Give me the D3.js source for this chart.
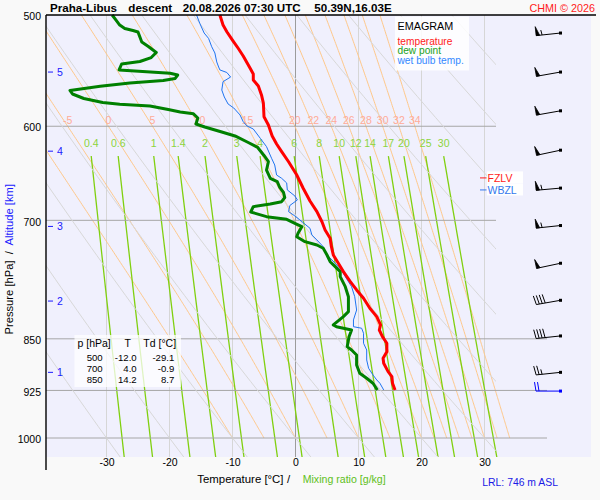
<!DOCTYPE html>
<html>
<head>
<meta charset="utf-8">
<script src="https://cdn.jsdelivr.net/npm/d3@7"></script>
<style>
  body { margin: 0; background: #f9f9f9; }
  svg { display: block; font-family: "Liberation Sans", Arial, sans-serif; }
  text { white-space: pre; }
</style>
</head>
<body>
<svg id="chart" width="600" height="500"></svg>
<script>
/* Emagram - Praha-Libus descent */

// temperature profile (hPa, degC)
const tempP = [500, 508.3, 513.9, 521.8, 528.0, 534.7, 545.6, 550.8, 556.2, 561.7, 570.0, 577.6, 590.7, 598.8, 609.6,
  617.7, 625.5, 635.9, 649.9, 663.9, 678.2, 690.1, 701.6, 711.2, 720.9, 730.9, 740.9, 751.0, 761.4, 774.0,
  784.6, 795.4, 808.5, 819.7, 830.9, 837.8, 847.0, 856.2, 868.1, 877.5, 884.8, 897.0, 904.4, 914.2, 924.3];
const tempT = [-12.0, -11.5, -10.9, -9.9, -9.1, -8.3, -7.2, -6.7, -6.7, -5.9, -5.4, -5.1, -5.0, -4.3, -3.7,
  -3.0, -2.2, -1.1, 0.2, 1.2, 2.3, 3.4, 4.2, 4.7, 5.5, 5.7, 6.0, 6.8, 7.6, 8.7,
  9.7, 10.8, 11.8, 12.9, 13.5, 13.3, 13.8, 14.5, 14.5, 13.9, 14.0, 14.7, 15.3, 15.4, 15.8];

// dew point profile
const dewP = [500, 504.9, 508.3, 511.2, 512.9, 514.1, 518.4, 522.6, 526.7, 531.7, 536.1, 539.6, 541.8, 547.1, 550.1,
  551.7, 554.8, 556.7, 558.9, 562.0, 565.8, 569.1, 573.3, 577.1, 578.8, 580.4, 583.7, 586.1, 587.9, 591.9,
  597.8, 600.7, 605.7, 609.6, 616.2, 621.2, 629.4, 635.9, 644.6, 653.4, 657.0, 663.3, 668.8, 674.3, 678.9,
  681.5, 684.5, 690.5, 695.8, 698.8, 703.4, 707.3, 715.0, 719.0, 724.9, 728.9, 732.8, 740.9, 749.1, 755.2,
  761.4, 767.7, 780.4, 793.3, 813.0, 819.7, 830.9, 833.3, 837.8, 847.0, 861.0, 865.7, 872.8, 887.2, 899.4,
  906.8, 914.2, 924.3];
const dewT = [-29.1, -28.4, -27.9, -27.1, -25.8, -25.0, -24.7, -24.4, -23.3, -22.1, -22.9, -24.7, -27.6, -28.0, -19.9,
  -18.7, -19.1, -21.0, -26.3, -31.0, -35.8, -35.4, -33.6, -30.6, -27.9, -23.1, -20.2, -18.3, -16.2, -15.5,
  -15.8, -14.4, -11.7, -9.6, -7.5, -6.0, -5.0, -4.3, -4.6, -4.0, -2.9, -2.5, -1.9, -1.7, -2.2,
  -4.0, -6.7, -7.1, -4.6, -1.4, -0.1, 1.0, 0.4, 0.2, 1.5, 3.4, 4.4, 5.0, 5.5, 6.3,
  7.1, 7.1, 7.9, 8.4, 8.4, 7.6, 6.0, 6.5, 8.9, 8.5, 8.2, 8.9, 9.7, 9.7, 10.2,
  11.3, 12.3, 13.0];

// wet bulb profile
const wetP = [500, 506.8, 515.0, 519.5, 526.7, 532.1, 540.0, 544.5, 547.1, 549.4, 553.5, 557.7, 565.4, 571.9, 578.5,
  582.3, 589.0, 595.5, 599.7, 602.7, 611.9, 620.4, 632.3, 639.3, 649.9, 653.4, 658.4, 666.0, 672.6, 677.0,
  683.2, 690.1, 695.0, 699.6, 709.2, 717.0, 722.9, 730.9, 740.9, 751.0, 759.3, 767.7, 780.4, 793.3, 810.8,
  824.1, 833.3, 835.4, 842.3, 856.2, 865.7, 880.0, 892.0, 901.9, 909.3, 914.2, 924.3];
const wetT = [-15.7, -15.2, -14.5, -13.8, -13.3, -12.8, -12.5, -12.2, -12.0, -10.9, -10.3, -11.5, -11.7, -11.3, -10.7,
  -9.8, -8.8, -8.3, -7.7, -6.7, -5.6, -4.6, -3.8, -3.3, -3.0, -2.2, -1.4, -1.3, -0.1, 0.3,
  -0.9, -1.1, -0.1, 0.7, 2.3, 2.6, 3.4, 4.4, 5.0, 6.3, 7.3, 7.9, 8.9, 9.4, 9.7,
  9.2, 9.2, 10.5, 10.8, 10.8, 11.3, 11.3, 11.6, 12.3, 12.9, 13.4, 14.0];

// winds (pressure, direction deg, speed kt)
const windP = [515, 549, 585, 624, 664, 706, 751, 798, 846, 898, 926];
const windDir = [264, 260, 260, 258, 265, 264, 258, 260, 264, 264, 270];
const windKt = [55, 50, 50, 50, 55, 55, 50, 40, 40, 25, 20];

// levels marked on the right
const levelNames = ['FZLV', 'WBZL'];
const levelP = [653, 666];

// altitude scale (km at hPa)
const altKm = [1, 2, 3, 4, 5];
const altP = [898, 799, 707, 625, 549];

// table
const tableP = [500, 700, 850];
const tableT = [-12.0, 4.0, 14.2];
const tableTd = [-29.1, -0.9, 8.7];

// axes and background lines
const pTicks = [500, 600, 700, 850, 925, 1000];
const pGrid = [600, 700, 850, 925, 1000];
const tTicks = [-30, -20, -10, 0, 10, 20, 30];
const dryTheta = [-30, -20, -10, 0, 10, 20, 30, 40, 50, 60, 70, 80, 90, 100, 110, 120, 130, 140, 150];
const moistThetaW = [-10, -5, 0, 5, 10, 15, 20, 22, 24, 26, 28, 30, 32, 34];
const mixRatios = [0.4, 0.6, 1, 1.4, 2, 3, 4, 6, 8, 10, 12, 14, 17, 20, 25, 30];

const W = 600, H = 500;
const plot = {left: 46, right: 591, top: 15, bottom: 457};
const svg = d3.select('#chart');

const x = d3.scaleLinear().domain([-30, 30]).range([106.5, 484.5]);
const y = d3.scaleLog().domain([500, 1000]).range([15, 438]);
const pBottom = y.invert(plot.bottom);

// thermodynamics for the background lines
const Rd = 287.04, cp = 1005.7, Lv = 2.501e6, eps = 0.622;
function esat(t) { return 6.112 * Math.exp(17.67 * t / (t + 243.5)); }
function dewFromMix(w, p) {
  const e = w * p / (622 + w);
  const l = Math.log(e / 6.112);
  return 243.5 * l / (17.67 - l);
}
function dryT(theta, p) { return (theta + 273.15) * Math.pow(p / 1000, Rd / cp) - 273.15; }
function moistRate(t, p) {
  const T = t + 273.15, es = esat(t), r = eps * es / (p - es);
  return ((Rd * T + Lv * r) / p) / (cp + Lv * Lv * r * eps / (Rd * T * T));
}
function moistLine(tw) {
  const pts = [];
  let t = tw;
  const dp = -2;
  for (let p = 1000; p >= 500; p += dp) {
    pts.push([t, p]);
    const k1 = moistRate(t, p);
    const k2 = moistRate(t + k1 * dp / 2, p + dp / 2);
    t += k2 * dp;
  }
  return pts;
}

const line = d3.line().x(d => x(d[0])).y(d => y(d[1]));

// background
svg.append('rect').attr('width', W).attr('height', H).attr('fill', '#f9f9f9');
svg.append('rect')
  .attr('x', plot.left).attr('y', plot.top)
  .attr('width', plot.right - plot.left).attr('height', plot.bottom - plot.top)
  .attr('fill', '#f0f0fd');

const defs = svg.append('defs');
defs.append('clipPath').attr('id', 'clipPlot').append('rect')
  .attr('x', plot.left).attr('y', plot.top)
  .attr('width', plot.right - plot.left).attr('height', plot.bottom - plot.top);
defs.append('clipPath').attr('id', 'clipDry').append('rect')
  .attr('x', plot.left).attr('y', plot.top)
  .attr('width', 496 - plot.left).attr('height', plot.bottom - plot.top);

const grid = svg.append('g').attr('clip-path', 'url(#clipPlot)');

// isotherms
grid.selectAll('.iso').data(tTicks).enter().append('line')
  .attr('x1', d => x(d)).attr('x2', d => x(d))
  .attr('y1', plot.top).attr('y2', plot.bottom)
  .attr('stroke', d => d == 0 ? '#9c9c9c' : '#d6d6d6')
  .attr('stroke-width', 1);

// dry adiabats
const dryG = svg.append('g').attr('clip-path', 'url(#clipDry)');
dryG.selectAll('path').data(dryTheta).enter().append('path')
  .attr('d', th => line(d3.range(pBottom, 499, -10).concat([500]).map(p => [dryT(th, p), p])))
  .attr('fill', 'none').attr('stroke', '#d8d8d8').attr('stroke-width', 1);

// moist adiabats
grid.selectAll('.moist').data(moistThetaW).enter().append('path')
  .attr('d', tw => line(moistLine(tw)))
  .attr('fill', 'none').attr('stroke', '#ffc88a').attr('stroke-width', 1);

// mixing ratio lines
grid.selectAll('.mix').data(mixRatios).enter().append('path')
  .attr('d', w => line(d3.range(630, pBottom, 5).concat([pBottom]).map(p => [dewFromMix(w, p), p])))
  .attr('fill', 'none').attr('stroke', '#80d010').attr('stroke-width', 1.3);

// pressure lines
grid.selectAll('.pgrid').data(pGrid).enter().append('line')
  .attr('x1', plot.left).attr('x2', d => d >= 850 ? 547 : 496)
  .attr('y1', d => y(d)).attr('y2', d => y(d))
  .attr('stroke', '#a6a6a6').attr('stroke-width', 1);

// labels of moist adiabats (at 600 hPa) and mixing ratio (at 630 hPa)
const moistAt600 = moistThetaW.map(tw => {
  const pts = moistLine(tw);
  return {tw: tw, t: pts.find(d => d[1] <= 600)[0]};
}).filter(d => x(d.t) > plot.left + 8);
svg.append('g').selectAll('text').data(moistAt600).enter().append('text')
  .attr('x', d => x(d.t)).attr('y', y(600) - 2)
  .attr('text-anchor', 'middle').attr('font-size', 10.5).attr('fill', '#ffab98')
  .text(d => d.tw);

svg.append('g').selectAll('text').data(mixRatios).enter().append('text')
  .attr('x', w => x(dewFromMix(w, 630))).attr('y', 146.5)
  .attr('text-anchor', 'middle').attr('font-size', 10.5).attr('fill', '#8cd43c')
  .text(w => w);

// sounding curves
const curves = [
  {p: wetP, t: wetT, color: '#1f74f0', width: 1},
  {p: dewP, t: dewT, color: '#008000', width: 3},
  {p: tempP, t: tempT, color: '#ff0000', width: 3}
];
svg.append('g').selectAll('path').data(curves).enter().append('path')
  .attr('d', c => line(c.p.map((p, i) => [c.t[i], p])))
  .attr('fill', 'none').attr('stroke', c => c.color).attr('stroke-width', c => c.width)
  .attr('stroke-linejoin', 'round');

// legend
const leg = svg.append('g');
leg.append('rect').attr('x', 395).attr('y', 16.5).attr('width', 74).attr('height', 54)
  .attr('fill', '#ffffff').attr('fill-opacity', 0.85);
leg.append('text').attr('x', 397.5).attr('y', 29.7).attr('font-size', 10.8).attr('fill', '#000').text('EMAGRAM');
const legItems = [['temperature', '#ff1a1a'], ['dew point', '#1aa01a'], ['wet bulb temp.', '#3388ff']];
leg.selectAll('.li').data(legItems).enter().append('text')
  .attr('x', 397.5).attr('y', (d, i) => 44.5 + i * 9.8)
  .attr('font-size', 10.2).attr('fill', d => d[1]).text(d => d[0]);

// table
const tab = svg.append('g').attr('font-size', 9.6).attr('fill', '#000');
tab.append('rect').attr('x', 74.5).attr('y', 335).attr('width', 106.5).attr('height', 52)
  .attr('fill', '#ffffff').attr('fill-opacity', 0.75);
tab.append('text').attr('x', 77.5).attr('y', 346.5).attr('font-size', 10.5).text('p [hPa]');
tab.append('text').attr('x', 127.7).attr('y', 346.5).attr('font-size', 10.5).attr('text-anchor', 'middle').text('T');
tab.append('text').attr('x', 143.3).attr('y', 346.5).attr('font-size', 10.5).text('Td [°C]');
tableP.forEach((p, i) => {
  const yy = 361 + i * 10.8;
  tab.append('text').attr('x', 102.7).attr('y', yy).attr('text-anchor', 'end').text(p);
  tab.append('text').attr('x', 136.7).attr('y', yy).attr('text-anchor', 'end').text(tableT[i].toFixed(1));
  tab.append('text').attr('x', 174.3).attr('y', yy).attr('text-anchor', 'end').text(tableTd[i].toFixed(1));
});

// freezing levels
const lvColors = ['#ff1a1a', '#3377ee'];
levelNames.forEach((name, i) => {
  const yy = y(levelP[i]);
  svg.append('line').attr('x1', 480).attr('x2', 486.5).attr('y1', yy).attr('y2', yy)
    .attr('stroke', lvColors[i]).attr('stroke-width', 1);
  svg.append('rect').attr('x', 487).attr('y', yy - 6.5).attr('width', 36).attr('height', 12).attr('fill', '#fff');
  svg.append('text').attr('x', 487.5).attr('y', yy + 4).attr('font-size', 10.5)
    .attr('fill', lvColors[i]).text(name);
});

// wind barbs
function barb(g, px, py, dir, kt, color) {
  const a = dir * Math.PI / 180;
  const ux = Math.sin(a), uy = -Math.cos(a);
  const nx = -uy, ny = ux;
  const L = 24.5, h = 9;
  const ex = px + L * ux, ey = py + L * uy;
  g.append('line').attr('x1', px).attr('y1', py).attr('x2', ex).attr('y2', ey)
    .attr('stroke', color).attr('stroke-width', 1);
  g.append('rect').attr('x', px - 1.5).attr('y', py - 1.5).attr('width', 3).attr('height', 3).attr('fill', color);
  let rest = Math.round(kt / 5) * 5, t = 0;
  while (rest >= 50) {
    const ax = ex - t * ux, ay = ey - t * uy;
    const bx = ex - (t + 3.5) * ux, by = ey - (t + 3.5) * uy;
    g.append('path').attr('d', `M${ax},${ay}L${ax + h * nx},${ay + h * ny}L${bx},${by}Z`)
      .attr('fill', color).attr('stroke', color).attr('stroke-width', 0.8);
    rest -= 50; t += 6;
  }
  while (rest >= 10) {
    const ax = ex - t * ux, ay = ey - t * uy;
    g.append('line').attr('x1', ax).attr('y1', ay)
      .attr('x2', ax + h * nx + 1.5 * ux).attr('y2', ay + h * ny + 1.5 * uy)
      .attr('stroke', color).attr('stroke-width', 1);
    rest -= 10; t += 3;
  }
  if (rest >= 5) {
    if (t == 0) t = 2;
    const ax = ex - t * ux, ay = ey - t * uy;
    g.append('line').attr('x1', ax).attr('y1', ay)
      .attr('x2', ax + 5 * nx + 0.8 * ux).attr('y2', ay + 5 * ny + 0.8 * uy)
      .attr('stroke', color).attr('stroke-width', 1);
  }
}
const barbG = svg.append('g');
windP.forEach((p, i) => {
  const color = i == windP.length - 1 ? '#0000ff' : '#000000';
  barb(barbG, 560.5, y(p), windDir[i], windKt[i], color);
});

// altitude ticks
const altG = svg.append('g');
altKm.forEach((km, i) => {
  const yy = y(altP[i]);
  altG.append('line').attr('x1', 48).attr('x2', 53).attr('y1', yy).attr('y2', yy)
    .attr('stroke', '#1a1aff').attr('stroke-width', 1);
  altG.append('text').attr('x', 57).attr('y', yy + 4).attr('font-size', 10.5).attr('fill', '#1a1aff').text(km);
});

// axes
const yAxis = d3.axisLeft(y).tickValues(pTicks).tickFormat(d => d).tickSize(0).tickPadding(5);
svg.append('g').attr('transform', `translate(${plot.left},0)`).call(yAxis)
  .attr('font-family', null).attr('font-size', 10.5)
  .call(g => g.select('.domain').remove())
  .selectAll('text').attr('dy', '0.45em').attr('fill', '#000');

const xAxis = d3.axisBottom(x).tickValues(tTicks).tickFormat(d => String(d)).tickSize(0).tickPadding(1.5);
svg.append('g').attr('transform', `translate(0,${plot.bottom})`).call(xAxis)
  .attr('font-family', null).attr('font-size', 10.5)
  .call(g => g.select('.domain').remove())
  .selectAll('text').attr('fill', '#000');

svg.append('line').attr('x1', plot.left).attr('x2', plot.left).attr('y1', plot.top).attr('y2', 470)
  .attr('stroke', '#000').attr('stroke-width', 1.4);
svg.append('line').attr('x1', plot.left).attr('x2', 596).attr('y1', plot.top).attr('y2', plot.top)
  .attr('stroke', '#000').attr('stroke-width', 1.4);

// titles
const title = svg.append('g').attr('font-size', 11.6).attr('font-weight', 'bold').attr('fill', '#000');
title.append('text').attr('x', 50).attr('y', 11.5).text('Praha-Libus');
title.append('text').attr('x', 128.3).attr('y', 11.5).text('descent');
title.append('text').attr('x', 182.7).attr('y', 11.5).text('20.08.2026 07:30 UTC');
title.append('text').attr('x', 314.3).attr('y', 11.5).text('50.39N,16.03E');
svg.append('text').attr('x', 595).attr('y', 11.5).attr('text-anchor', 'end')
  .attr('font-size', 10.8).attr('fill', '#ff1a1a').text('CHMI © 2026');

svg.append('text').attr('x', 197.3).attr('y', 483.3).attr('font-size', 11.4).attr('fill', '#000').text('Temperature [°C]');
svg.append('text').attr('x', 287).attr('y', 483.3).attr('font-size', 11.4).attr('fill', '#000').text('/');
svg.append('text').attr('x', 302.7).attr('y', 483.3).attr('font-size', 10.6).attr('fill', '#60c020').text('Mixing ratio [g/kg]');
svg.append('text').attr('x', 482.3).attr('y', 486).attr('font-size', 10.4).attr('fill', '#1a1ae6').text('LRL: 746 m ASL');

const yTitle = svg.append('text').attr('transform', 'translate(12.5,184) rotate(-90)')
  .attr('text-anchor', 'end').attr('font-size', 11.2);
yTitle.append('tspan').attr('fill', '#000').text('Pressure [hPa]  /  ');
yTitle.append('tspan').attr('fill', '#1a1aff').text('Altitude [km]');
</script>
</body>
</html>
